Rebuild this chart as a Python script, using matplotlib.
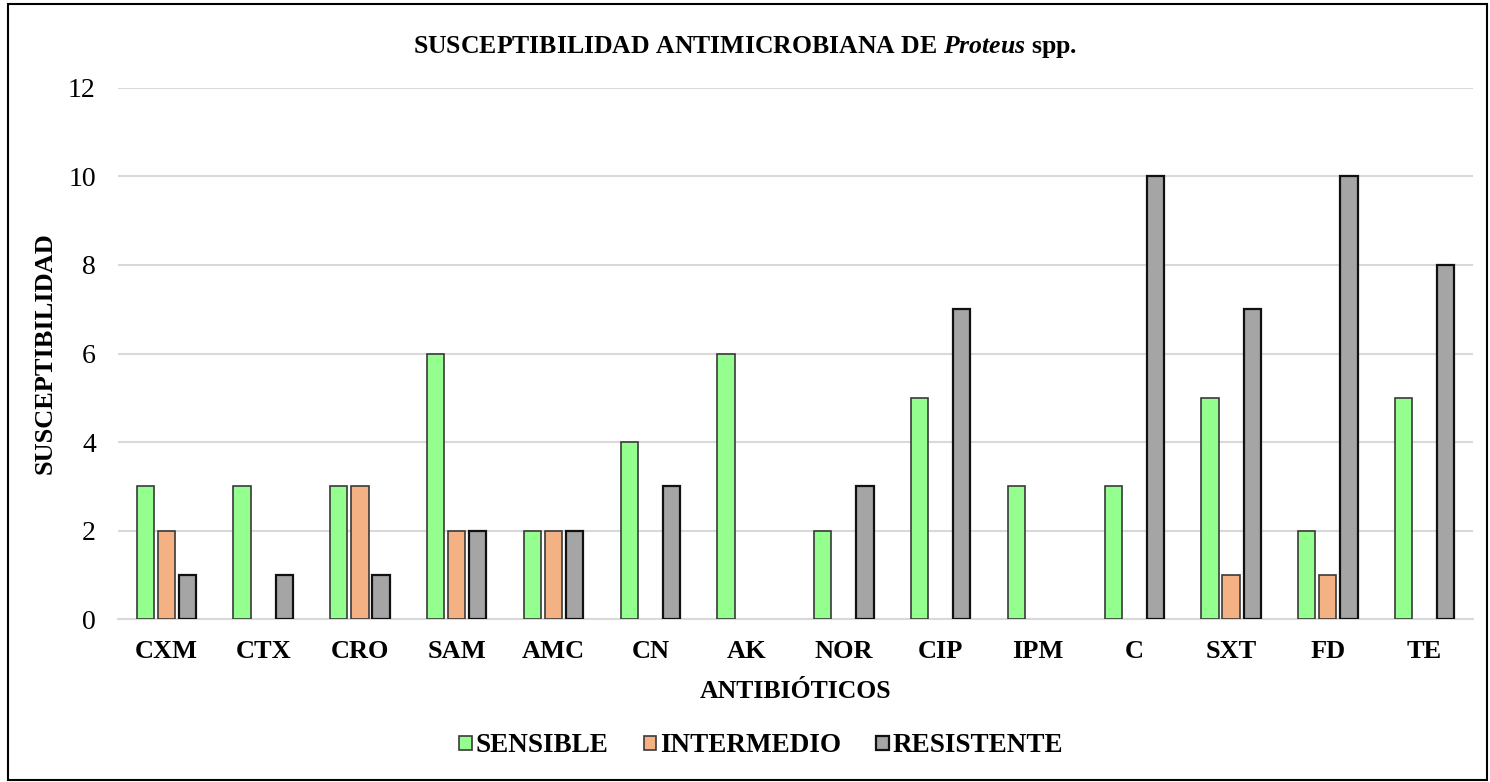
import matplotlib
matplotlib.use("Agg")
import matplotlib.pyplot as plt
import numpy as np
from matplotlib.patches import Rectangle

categories = ["CXM", "CTX", "CRO", "SAM", "AMC", "CN", "AK", "NOR", "CIP", "IPM", "C", "SXT", "FD", "TE"]
sensible = [3, 3, 3, 6, 2, 4, 6, 2, 5, 3, 3, 5, 2, 5]
intermedio = [2, 0, 3, 2, 2, 0, 0, 0, 0, 0, 0, 1, 1, 0]
resistente = [1, 1, 1, 2, 2, 3, 0, 3, 7, 0, 10, 7, 10, 8]
series_names = ["SENSIBLE", "INTERMEDIO", "RESISTENTE"]
yticks = [0, 2, 4, 6, 8, 10, 12]

plt.rcParams["font.family"] = ["Liberation Serif", "DejaVu Serif"]
plt.rcParams["mathtext.fontset"] = "custom"
plt.rcParams["mathtext.it"] = "Liberation Serif:italic:bold"
plt.rcParams["mathtext.rm"] = "Liberation Serif:bold"

fig = plt.figure(figsize=(14.9, 7.82), dpi=100)
ax = fig.add_axes([0.0792, 0.2084, 0.9094, 0.6791])

colors = ["#94FF8F", "#F4B183", "#A5A5A5"]
edges = ["#3A3A3A", "#3A3A3A", "#111111"]
x = np.arange(len(categories))
w = 0.178
step = 0.218
for i, (vals, name) in enumerate(zip([sensible, intermedio, resistente], series_names)):
    vals = np.array(vals, dtype=float)
    keep = vals > 0
    ax.bar(x[keep] + (i - 1) * step, vals[keep], width=w, color=colors[i], edgecolor=edges[i],
           linewidth=1.2 if i < 2 else 1.6, label=name, zorder=3)

ax.set_xlim(-0.5, len(categories) - 0.5)
ax.set_ylim(0, 12)
ax.set_yticks(yticks)
ax.set_yticklabels([str(t) for t in yticks], fontsize=20)
ax.set_xticks(x)
ax.set_xticklabels(categories, fontsize=19, fontweight="bold")
ax.tick_params(axis="both", length=0)
ax.tick_params(axis="x", pad=15)
ax.tick_params(axis="y", pad=16)
ax.grid(axis="y", color="#D9D9D9", linewidth=1.5, zorder=0)
for s in ["top", "right", "left"]:
    ax.spines[s].set_visible(False)
ax.spines["bottom"].set_color("#D9D9D9")
ax.spines["bottom"].set_linewidth(1.5)

ax.set_xlabel("ANTIBIÓTICOS", fontsize=18.5, fontweight="bold", labelpad=12)
ax.set_ylabel("SUSCEPTIBILIDAD", fontsize=19, fontweight="bold", labelpad=8)

fig.text(0.5, 1 - 47 / 782, r"SUSCEPTIBILIDAD ANTIMICROBIANA DE $\mathit{Proteus}$ spp.",
         ha="center", va="center", fontsize=18.5, fontweight="bold")

leg = fig.legend(loc="center", bbox_to_anchor=(0.511, 1 - 746 / 782), ncol=3, frameon=False,
                 prop={"size": 19.5, "weight": "bold"}, handlelength=0.45, handleheight=0.45,
                 handletextpad=0.15, columnspacing=1.3)

fig.patches.append(Rectangle((8 / 1490, 2 / 782), 1479 / 1490, 776 / 782, transform=fig.transFigure,
                             fill=False, edgecolor="black", linewidth=1.5, zorder=10))

fig.savefig("out.png", dpi=100)
